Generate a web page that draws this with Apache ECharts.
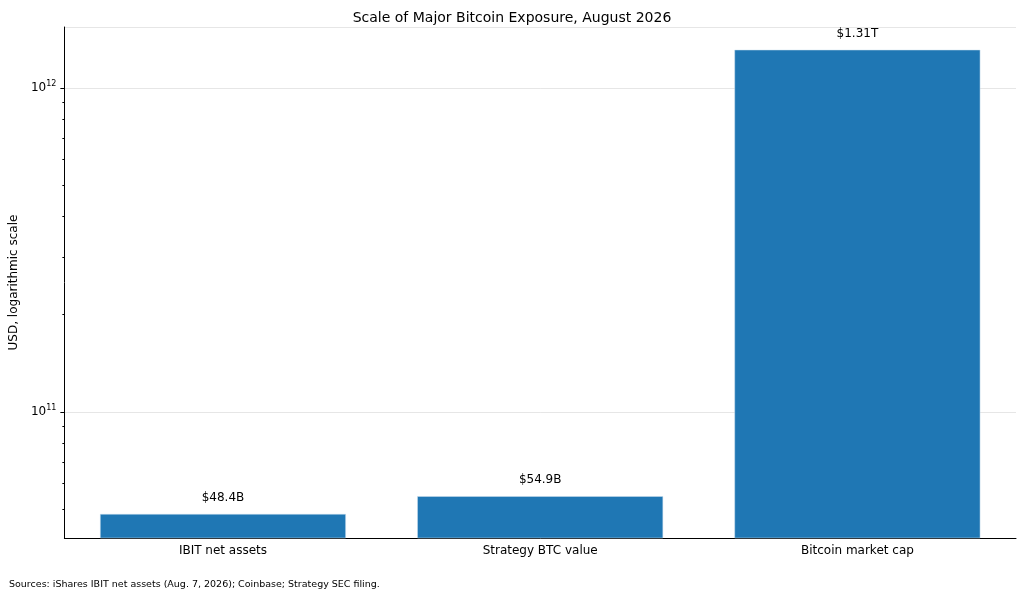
<!DOCTYPE html>
<html><head><meta charset="utf-8">
<script src="https://cdn.jsdelivr.net/npm/echarts@6/dist/echarts.min.js"></script>
<style>html,body{margin:0;background:#fff}#c{width:1024px;height:600px}</style></head>
<body><div id="c"></div>
<script>
const categories = ["IBIT net assets", "Strategy BTC value", "Bitcoin market cap"];
const values = [48.4e9, 54.9e9, 1.31e12];
const valueLabels = ["$48.4B", "$54.9B", "$1.31T"];
const minorTicks = [5e10,6e10,7e10,8e10,9e10,2e11,3e11,4e11,5e11,6e11,7e11,8e11,9e11];
const chart = echarts.init(document.getElementById('c'));
const font = 'DejaVu Sans';
const grid = {left:63, right:8, top:27, bottom:62};
const yMin = 4.08e10, yMax = 1.54e12;
chart.setOption({
  animation:false,
  textStyle:{fontFamily:font},
  title:{text:'Scale of Major Bitcoin Exposure, August 2026', left:'center', top:6,
    textStyle:{fontSize:14, fontWeight:'normal', color:'#000', fontFamily:font}},
  graphic:[{type:'text', left:9, top:580, style:{text:'Sources: iShares IBIT net assets (Aug. 7, 2026); Coinbase; Strategy SEC filing.', fontSize:9.5, fill:'#000', fontFamily:font}}],
  grid:[grid],
  xAxis:{type:'category', data:categories, axisTick:{alignWithLabel:true, length:4, lineStyle:{color:'#000'}},
    axisLine:{lineStyle:{color:'#000'}}, axisLabel:{color:'#000', fontSize:12, margin:7},
    splitLine:{show:false}},
  yAxis:[{type:'log', logBase:10, min:yMin, max:yMax,
    name:'USD, logarithmic scale', nameLocation:'middle', nameGap:38, nameTextStyle:{fontSize:12, color:'#000'},
    axisLine:{show:true, lineStyle:{color:'#000'}}, axisTick:{show:true, length:4, lineStyle:{color:'#000'}},
    axisLabel:{showMinLabel:false, showMaxLabel:false, color:'#000', fontSize:12,
      formatter:v=>{const e=Math.round(Math.log10(v)); return '10{s|'+e+'}';},
      rich:{s:{fontSize:8, verticalAlign:'top', padding:[0,0,8,0]}}},
    splitLine:{show:true, lineStyle:{color:'#e6e6e6'}}},
   {type:'log', logBase:10, min:yMin, max:yMax, position:'left',
    axisLine:{show:false}, splitLine:{show:false}, axisLabel:{show:false},
    axisTick:{show:true, length:2, lineStyle:{color:'#000'}, customValues:minorTicks}}],
  series:[{type:'bar', data:values, barWidth:'77.5%',
    itemStyle:{color:'#1f77b4', borderColor:'#cfe0ee', borderWidth:0.5},
    label:{show:true, position:'top', distance:10, color:'#000', fontSize:12,
      formatter:p=>valueLabels[p.dataIndex]}}]
});
</script></body></html>
